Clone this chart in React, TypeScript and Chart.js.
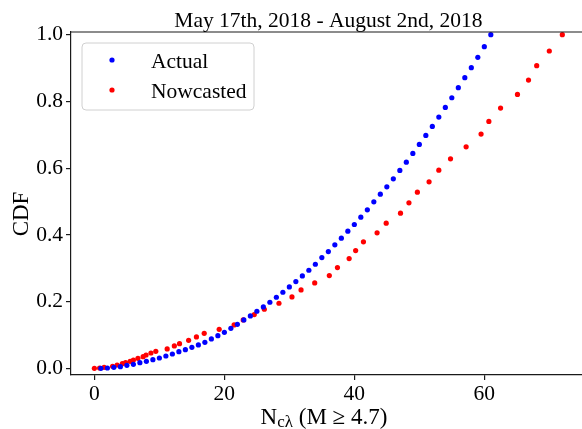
import React, { useEffect, useRef } from "react";
import { Chart, registerables } from "chart.js";

Chart.register(...registerables);

// Actual counts: integer N values and their CDF
const actualX = [
  1, 2, 3, 4, 5, 6, 7, 8, 9, 10, 11, 12, 13, 14, 15, 16, 17, 18, 19, 20,
  21, 22, 23, 24, 25, 26, 27, 28, 29, 30, 31, 32, 33, 34, 35, 36, 37, 38, 39, 40,
  41, 42, 43, 44, 45, 46, 47, 48, 49, 50, 51, 52, 53, 54, 55, 56, 57, 58, 59, 60, 61,
];
const actualCdf = [
  0.0, 0.001, 0.003, 0.005, 0.009, 0.012, 0.017, 0.021, 0.026, 0.031,
  0.037, 0.043, 0.05, 0.056, 0.063, 0.07, 0.078, 0.088, 0.098, 0.108,
  0.12, 0.132, 0.145, 0.157, 0.171, 0.184, 0.198, 0.213, 0.228, 0.244,
  0.26, 0.277, 0.294, 0.312, 0.332, 0.35, 0.37, 0.39, 0.411, 0.431,
  0.453, 0.475, 0.499, 0.522, 0.544, 0.568, 0.593, 0.618, 0.644, 0.671,
  0.698, 0.725, 0.753, 0.782, 0.811, 0.841, 0.871, 0.901, 0.932, 0.964, 1.0,
];

// Nowcasted values and their CDF
const nowcastX = [
  0.0, 0.8, 1.5, 2.8, 3.5, 4.3, 4.8, 5.5, 6.0, 6.7, 7.5, 7.95, 8.7, 9.45,
  11.2, 12.3, 13.1, 14.5, 15.7, 16.9, 19.2, 21.5, 22.9, 24.6, 26.15, 28.4,
  30.4, 31.8, 33.9, 36.15, 37.4, 39.2, 40.2, 41.4, 43.5, 44.9, 47.1, 48.4,
  49.7, 51.5, 53.0, 54.8, 57.2, 59.5, 60.7, 62.5, 65.1, 66.8, 68.06, 70.0, 72.0,
];
const nowcastCdf = [
  0.0, 0.001, 0.003, 0.006, 0.01, 0.014, 0.017, 0.021, 0.025, 0.03, 0.035, 0.04, 0.046, 0.051,
  0.058, 0.067, 0.074, 0.084, 0.094, 0.105, 0.117, 0.13, 0.145, 0.161, 0.177, 0.195,
  0.214, 0.235, 0.256, 0.278, 0.302, 0.329, 0.353, 0.379, 0.406, 0.435, 0.465, 0.496,
  0.528, 0.559, 0.594, 0.628, 0.664, 0.702, 0.74, 0.78, 0.821, 0.864, 0.907, 0.951, 1.0,
];

const xTicks = [0, 20, 40, 60];
const yTicks = [0, 0.2, 0.4, 0.6, 0.8, 1.0];

const seriesNames = ["Actual", "Nowcasted"];
const seriesColors = ["#0000ff", "#ff0000"];

const titleText = "May 17th, 2018 - August 2nd, 2018";
const yLabelText = "CDF";

const SERIF = "'Liberation Serif', 'Times New Roman', serif";
const INK = "#1a1a1a";
const DOT = 2.6;

const decorations = {
  id: "decorations",
  afterDraw(chart: any) {
    const ctx = chart.ctx as CanvasRenderingContext2D;
    const area = chart.chartArea;
    ctx.save();

    // top spine
    ctx.strokeStyle = INK;
    ctx.lineWidth = 1.2;
    ctx.beginPath();
    ctx.moveTo(area.left, area.top);
    ctx.lineTo(area.right, area.top);
    ctx.stroke();

    // title
    ctx.fillStyle = "#000";
    ctx.font = `21.5px ${SERIF}`;
    ctx.textAlign = "center";
    ctx.textBaseline = "alphabetic";
    ctx.fillText(titleText, (area.left + area.right) / 2, 27);

    // y axis label
    ctx.save();
    ctx.translate(28, 214);
    ctx.rotate(-Math.PI / 2);
    ctx.textAlign = "center";
    ctx.font = `23px ${SERIF}`;
    ctx.fillText(yLabelText, 0, 0);
    ctx.restore();

    // x axis label: N with subscript c-lambda
    const base = 423.5;
    const partMain = "N";
    const partSub = "cλ";
    const partTail = " (M ≥ 4.7)";
    ctx.textAlign = "left";
    ctx.font = `23px ${SERIF}`;
    const wMain = ctx.measureText(partMain).width;
    const wTail = ctx.measureText(partTail).width;
    ctx.font = `17px ${SERIF}`;
    const wSub = ctx.measureText(partSub).width;
    const total = wMain + wSub + wTail;
    let x = 324 - total / 2;
    ctx.font = `23px ${SERIF}`;
    ctx.fillText(partMain, x, base);
    x += wMain;
    ctx.font = `17px ${SERIF}`;
    ctx.fillText(partSub, x, base + 3.5);
    x += wSub;
    ctx.font = `23px ${SERIF}`;
    ctx.fillText(partTail, x, base);

    // legend
    const lx = 82, ly = 43, lw = 172, lh = 67, r = 4;
    ctx.beginPath();
    ctx.moveTo(lx + r, ly);
    ctx.lineTo(lx + lw - r, ly);
    ctx.arcTo(lx + lw, ly, lx + lw, ly + r, r);
    ctx.lineTo(lx + lw, ly + lh - r);
    ctx.arcTo(lx + lw, ly + lh, lx + lw - r, ly + lh, r);
    ctx.lineTo(lx + r, ly + lh);
    ctx.arcTo(lx, ly + lh, lx, ly + lh - r, r);
    ctx.lineTo(lx, ly + r);
    ctx.arcTo(lx, ly, lx + r, ly, r);
    ctx.closePath();
    ctx.fillStyle = "rgba(255,255,255,0.8)";
    ctx.fill();
    ctx.strokeStyle = "#d0d0d0";
    ctx.lineWidth = 1;
    ctx.stroke();

    const rows = [60, 90];
    seriesNames.forEach((name, i) => {
      ctx.fillStyle = seriesColors[i];
      ctx.beginPath();
      ctx.arc(112, rows[i], DOT, 0, Math.PI * 2);
      ctx.fill();
      ctx.fillStyle = "#000";
      ctx.font = `21.5px ${SERIF}`;
      ctx.textAlign = "left";
      ctx.textBaseline = "alphabetic";
      ctx.fillText(name, 151, rows[i] + 7.5);
    });

    ctx.restore();
  },
};

export default function App() {
  const canvasRef = useRef<HTMLCanvasElement | null>(null);

  useEffect(() => {
    const canvas = canvasRef.current;
    if (!canvas) return;

    const chart = new Chart(canvas, {
      type: "scatter",
      data: {
        datasets: [
          {
            label: seriesNames[0],
            data: actualX.map((v, i) => ({ x: v, y: actualCdf[i] })),
            backgroundColor: seriesColors[0],
            borderWidth: 0,
            pointRadius: DOT,
            showLine: false,
          },
          {
            label: seriesNames[1],
            data: nowcastX.map((v, i) => ({ x: v, y: nowcastCdf[i] })),
            backgroundColor: seriesColors[1],
            borderWidth: 0,
            pointRadius: DOT,
            showLine: false,
          },
        ],
      },
      options: {
        responsive: false,
        animation: false,
        devicePixelRatio: 1,
        clip: false as any,
        layout: { padding: { left: 0, right: 14.3, top: 32, bottom: 0 } },
        plugins: {
          legend: { display: false },
          title: { display: false },
          tooltip: { enabled: false },
        },
        scales: {
          x: {
            type: "linear",
            min: -3.6,
            max: 75.6,
            afterBuildTicks: (scale: any) => {
              scale.ticks = xTicks.map((v) => ({ value: v }));
            },
            afterFit: (scale: any) => {
              scale.height = 54;
            },
            border: { display: true, color: INK, width: 1.2 },
            grid: {
              drawOnChartArea: false,
              drawTicks: true,
              tickLength: 5,
              color: INK,
              lineWidth: 1.2,
            },
            ticks: {
              color: "#000",
              padding: 1,
              maxRotation: 0,
              font: { family: SERIF, size: 21.5 },
              callback: (v: any) => String(v),
            },
          },
          y: {
            type: "linear",
            min: -0.02,
            max: 1.008,
            afterBuildTicks: (scale: any) => {
              scale.ticks = yTicks.map((v) => ({ value: v }));
            },
            afterFit: (scale: any) => {
              scale.width = 71;
            },
            border: { display: true, color: INK, width: 1.2 },
            grid: {
              drawOnChartArea: false,
              drawTicks: true,
              tickLength: 5,
              color: INK,
              lineWidth: 1.2,
            },
            ticks: {
              color: "#000",
              padding: 3,
              font: { family: SERIF, size: 21.5 },
              callback: (v: any) => Number(v).toFixed(1),
            },
          },
        },
      },
      plugins: [decorations],
    });

    return () => chart.destroy();
  }, []);

  return (
    <div
      style={{
        position: "fixed",
        left: 0,
        top: 0,
        width: 582,
        height: 429,
        overflow: "hidden",
        background: "#fff",
      }}
    >
      <canvas ref={canvasRef} width={600} height={429} style={{ display: "block" }} />
    </div>
  );
}
